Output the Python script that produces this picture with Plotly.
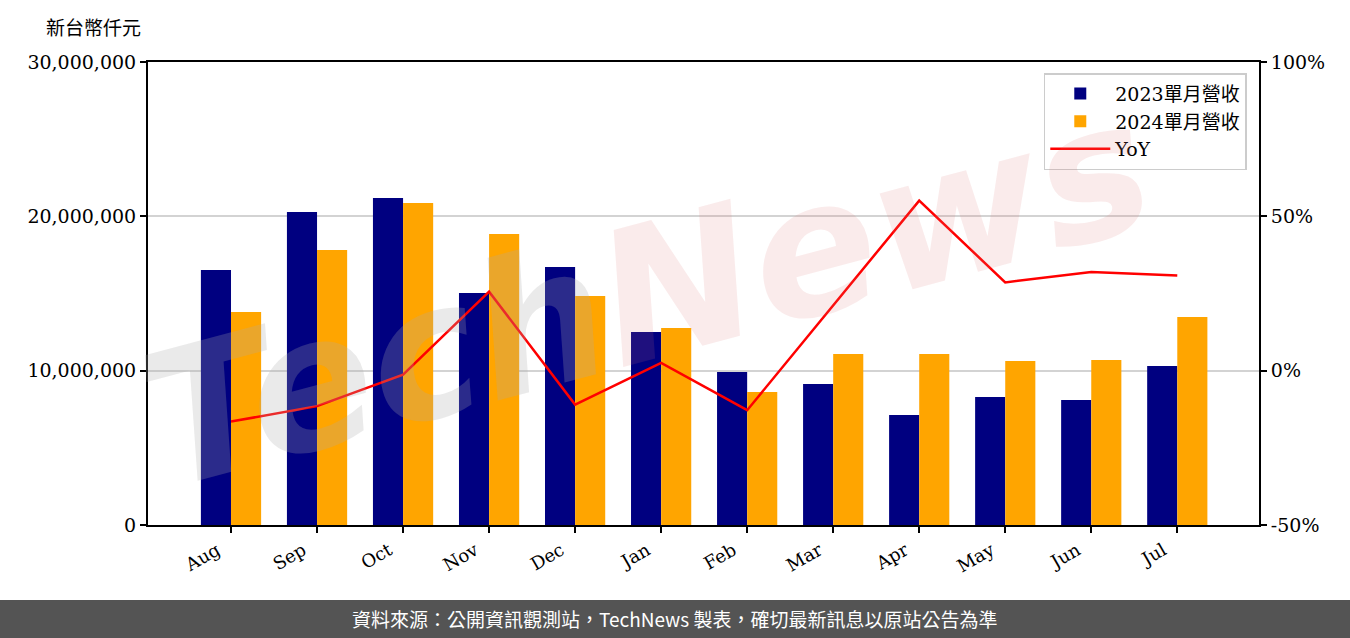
import plotly.graph_objects as go

months = ["Aug", "Sep", "Oct", "Nov", "Dec", "Jan", "Feb", "Mar", "Apr", "May", "Jun", "Jul"]
rev_2023 = [16530000, 20280000, 21190000, 15030000, 16720000, 12510000,
            9920000, 9140000, 7130000, 8300000, 8100000, 10300000]
rev_2024 = [13800000, 17820000, 20870000, 18860000, 14840000, 12770000,
            8620000, 11080000, 11080000, 10630000, 10690000, 13480000]
yoy_pct = [-16.5, -11.5, -1.3, 25.6, -11.0, 2.5, -12.8, 21.2, 55.1, 28.6, 32.0, 30.8]

left_ticks = [0, 10000000, 20000000, 30000000]
right_ticks = [-50, 0, 50, 100]
right_labels = ["-50%", "0%", "50%", "100%"]

serif = "DejaVu Serif, Noto Sans CJK TC, serif"

fig = go.Figure()

fig.add_trace(go.Bar(x=months, y=rev_2023, name="2023單月營收",
                     marker=dict(color="#000080", line=dict(width=0))))
fig.add_trace(go.Bar(x=months, y=rev_2024, name="2024單月營收",
                     marker=dict(color="#FFA500", line=dict(width=0))))
fig.add_trace(go.Scatter(x=months, y=yoy_pct, name="YoY", mode="lines",
                         line=dict(color="red", width=2.5), yaxis="y2"))

# watermark
fig.add_annotation(
    xref="paper", yref="paper", x=0.45, y=0.5, xanchor="center", yanchor="middle",
    text="<span style='color:rgba(170,170,170,0.25)'>Tech</span>"
         "<span style='color:rgba(220,110,110,0.14)'>News</span>",
    showarrow=False, textangle=-15,
    font=dict(size=185, family="DejaVu Sans", style="italic", weight="bold"),
)

# unit label
fig.add_annotation(xref="paper", yref="paper", x=-0.049, y=1.073,
                   xanchor="center", yanchor="middle",
                   text="新台幣仟元", showarrow=False,
                   font=dict(size=19, color="black", family=serif))

# footer
fig.add_shape(type="rect", xref="paper", yref="paper",
              x0=-0.2, x1=1.2, y0=-0.35, y1=-0.162,
              fillcolor="#545454", line=dict(width=0), layer="above")
fig.add_annotation(xref="paper", yref="paper", x=0.4743, y=-0.203,
                   xanchor="center", yanchor="middle",
                   text="資料來源：公開資訊觀測站，TechNews 製表，確切最新訊息以原站公告為準",
                   showarrow=False,
                   font=dict(size=19, color="white", family="Noto Sans CJK TC"))

fig.update_layout(
    width=1350, height=638,
    margin=dict(l=148, r=91, t=62, b=113),
    plot_bgcolor="white", paper_bgcolor="white",
    barmode="group", bargap=0.3, bargroupgap=0,
    font=dict(family=serif, size=19, color="black"),
    legend=dict(x=0.989, y=0.976, xanchor="right", yanchor="top", itemwidth=60,
                bgcolor="rgba(255,255,255,0.8)", bordercolor="#cccccc", borderwidth=1.5,
                font=dict(size=19, family=serif)),
    xaxis=dict(range=[-0.965, 11.95], tickangle=-30, showline=True, mirror=True,
               linecolor="black", linewidth=2, ticks="outside", ticklen=6,
               tickwidth=2, tickcolor="black", showgrid=False, ticklabelshift=-14,
               tickfont=dict(size=18, family=serif)),
    yaxis=dict(range=[0, 30000000], tickvals=left_ticks, tickformat=",",
               showline=True, linecolor="black", linewidth=2, ticks="outside",
               ticklen=6, tickwidth=2, tickcolor="black", showgrid=True,
               gridcolor="#d3d3d3", gridwidth=2, zeroline=False,
               tickfont=dict(size=19, family=serif)),
    yaxis2=dict(range=[-50, 100], tickvals=right_ticks, ticktext=right_labels,
                overlaying="y", side="right", showline=True, linecolor="black",
                linewidth=2, ticks="outside", ticklen=6, tickwidth=2,
                tickcolor="black", showgrid=False, zeroline=False,
                tickfont=dict(size=19, family=serif)),
)

fig.write_html("out.html", config={"displayModeBar": False},
               post_script="document.body.style.margin='0';")
